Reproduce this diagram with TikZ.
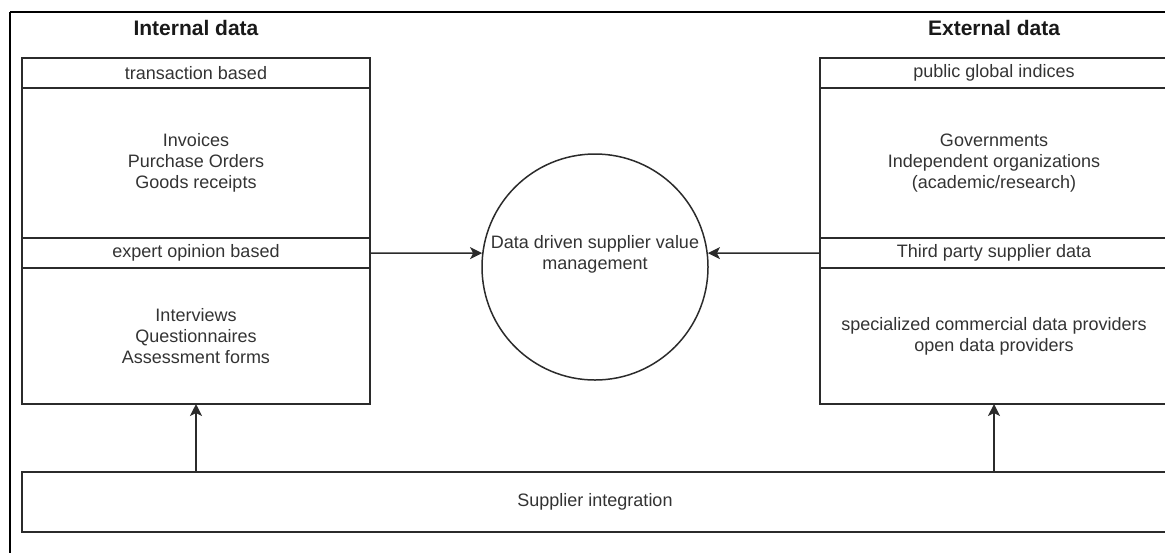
\documentclass[tikz,border=0pt]{standalone}
\usepackage{fontspec}
\setmainfont{Liberation Sans}
\usetikzlibrary{arrows.meta, positioning}
\definecolor{ink}{HTML}{333333}
\definecolor{edge}{HTML}{2B2B2B}

\begin{document}
\begin{tikzpicture}[x=0.5pt, y=-0.5pt,
    every node/.style={font=\fontsize{9}{10.5}\selectfont, text=ink},
    cell/.style={rectangle, draw=edge, line width=0.75pt, minimum width=174pt, outer sep=0pt, inner sep=0pt, align=center},
    hdr/.style={cell, minimum height=15pt},
    title/.style={font=\fontsize{10.5}{12}\selectfont\bfseries, text=black!90},
    hub/.style={circle, draw=edge, line width=0.75pt, minimum size=113pt, inner sep=0pt},
    flow/.style={-{Stealth[length=6pt, width=6pt, inset=1.5pt]}, line width=0.75pt, color=edge}
]
\path[use as bounding box] (0,0) rectangle (1165,553);
\clip (0,0) rectangle (1165,553);

% Frame
\draw[line width=0.7pt] (10,12) -- (1165,12);
\draw[line width=1.3pt] (10,12) -- (10,553);

% Internal data
\node[title] (itit) at (196,28) {Internal data};
\node[hdr, anchor=north west] (ihdr1) at (22,58) {transaction based};
\node[cell, minimum height=75pt, below=0pt of ihdr1] (ibody1) {Invoices\\Purchase Orders\\Goods receipts};
\node[hdr, below=0pt of ibody1] (ihdr2) {expert opinion based};
\node[cell, minimum height=68pt, below=0pt of ihdr2] (ibody2) {Interviews\\Questionnaires\\Assessment forms};

% External data
\node[title] (etit) at (994,28) {External data};
\node[hdr, anchor=north west] (ehdr1) at (820,58) {public global indices};
\node[cell, minimum height=75pt, below=0pt of ehdr1] (ebody1) {Governments\\Independent organizations\\(academic/research)};
\node[hdr, below=0pt of ebody1] (ehdr2) {Third party supplier data};
\node[cell, minimum height=68pt, below=0pt of ehdr2] (ebody2) {specialized commercial data providers\\open data providers};

% Centre
\node[hub] (core) at (595,267) {};
\node[align=center] (coretxt) at (595,254) {Data driven supplier value\\management};

% Supplier integration
\node[cell, minimum width=573pt, minimum height=30pt, anchor=north west] (supp) at (22,472) {Supplier integration};

% Flows
\draw[flow] (ihdr2.east) -- (core.173);
\draw[flow] (ehdr2.west) -- (core.7);
\draw[flow] (supp.north -| ibody2.south) -- (ibody2.south);
\draw[flow] (supp.north -| ebody2.south) -- (ebody2.south);
\end{tikzpicture}
\end{document}
